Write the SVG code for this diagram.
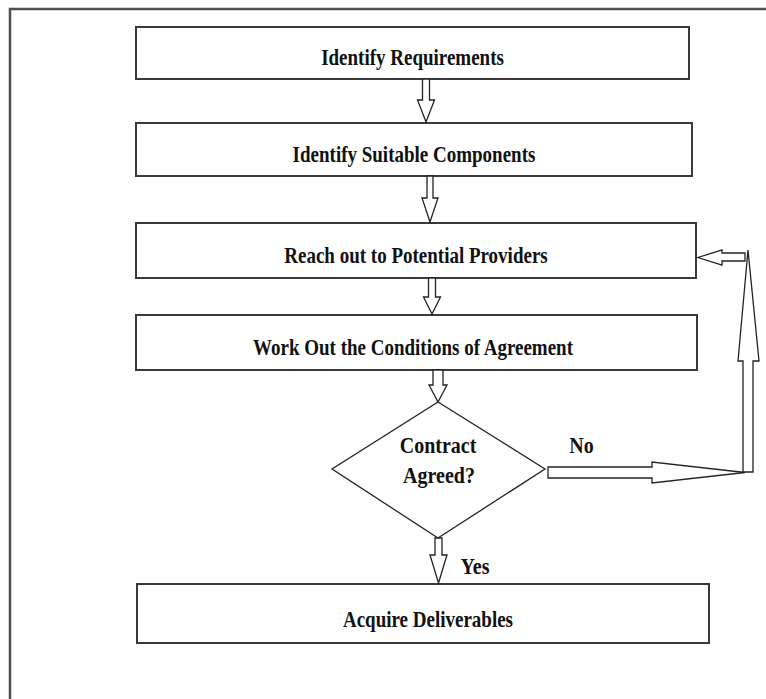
<svg xmlns="http://www.w3.org/2000/svg" width="766" height="699" viewBox="0 0 766 699">
<style>
.frame{fill:none;stroke:#505050;stroke-width:2.5}
.box{fill:#fff;stroke:#3a3a3a;stroke-width:2}
.dia{fill:#fff;stroke:#222;stroke-width:1.3}
.arr{fill:#fff;stroke:#222;stroke-width:1.3;stroke-linejoin:miter}
.t{font-family:"Liberation Serif","Times New Roman",serif;font-weight:bold;font-size:19px;fill:#111;text-anchor:middle}
.t2{font-family:"Liberation Serif","Times New Roman",serif;font-weight:bold;font-size:20px;fill:#111;text-anchor:middle}
</style>
<rect width="766" height="699" fill="#fff"/>
<path class="frame" d="M10,699 V9 H766"/>
<g id="n1"><rect class="box" x="136" y="27" width="553" height="52"/><text class="t" transform="translate(412.5,65) scale(1,1.22)">Identify Requirements</text></g>
<g id="n2"><rect class="box" x="136" y="123" width="556" height="53"/><text class="t" transform="translate(414,162) scale(1,1.22)">Identify Suitable Components</text></g>
<g id="n3"><rect class="box" x="136" y="223" width="560" height="55"/><text class="t" transform="translate(416,263) scale(1,1.22)">Reach out to Potential Providers</text></g>
<g id="n4"><rect class="box" x="136" y="315" width="561" height="55"/><text class="t" transform="translate(413,355) scale(1,1.22)">Work Out the Conditions of Agreement</text></g>
<g id="n5"><polygon class="dia" points="438,402 545,469 438,538 332,469"/><text class="t2" transform="translate(438,453) scale(1,1.15)">Contract</text><text class="t2" transform="translate(439,483) scale(1,1.15)">Agreed?</text></g>
<g id="n6"><rect class="box" x="137" y="584" width="572" height="59"/><text class="t" transform="translate(428,627) scale(1,1.22)">Acquire Deliverables</text></g>
<g id="connectors">
<polygon class="arr" points="422.5,79 429.5,79 429.5,100 434.5,100 426,122 417.5,100 422.5,100"/>
<polygon class="arr" points="427,176 433,176 433,198 438,198 430,222 422,198 427,198"/>
<polygon class="arr" points="428.5,278 435.5,278 435.5,297 440.5,297 432,314 423.5,297 428.5,297"/>
<polygon class="arr" points="433,370 443,370 443,385 447,385 438,402 429,385 433,385"/>
<polygon class="arr" points="435,538 442,538 442,555 447,555 438.5,583 430,555 435,555"/>
<polygon class="arr" points="548,467 652,467 652,462 745,472.5 652,483 652,478 548,478"/>
<polygon class="arr" points="743,472 753,472 753,361 759,361 748,250 738,361 743,361"/>
<polygon class="arr" points="745,253 722,253 722,250 698,257.5 722,265 722,261 745,261"/>
<text class="t2" transform="translate(581.5,453) scale(1,1.15)">No</text>
<text class="t2" transform="translate(475,574) scale(1,1.15)">Yes</text>
</g>
</svg>
